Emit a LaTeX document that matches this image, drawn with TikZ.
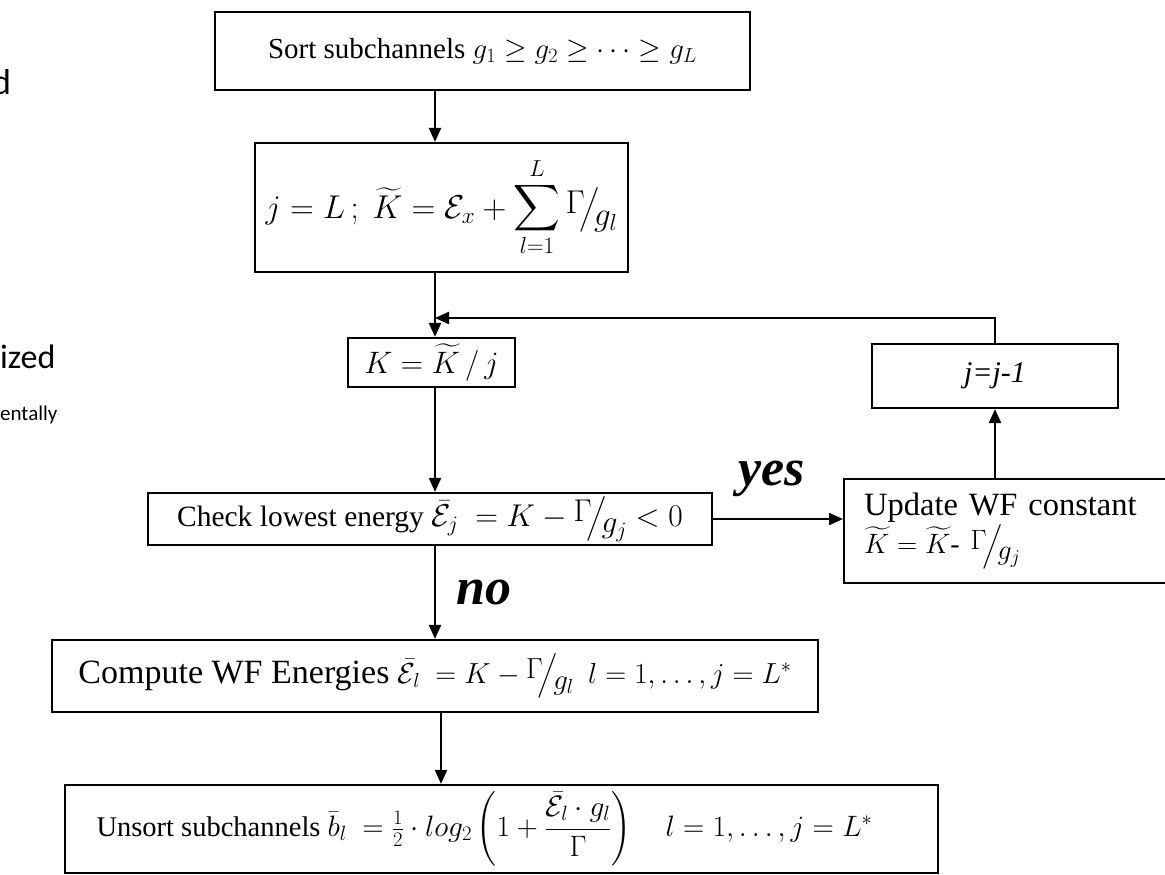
\RequirePackage{fix-cm}
\documentclass[tikz,border=0pt]{standalone}
\usepackage{amsmath}
\usepackage{fontspec}
\setmainfont{Liberation Serif}
\newfontfamily\sidefont{Carlito}
\usetikzlibrary{arrows.meta}
% font size switch (size = leading)
\newcommand{\setsz}[1]{\fontsize{#1}{#1}\selectfont}
% skewed fraction such as Gamma/g
\newcommand{\skfrac}[2]{\raisebox{0.35ex}{$#1$}\!\big/\!\raisebox{-0.45ex}{$#2$}}
% tall summation sign
\newcommand{\bigsum}{\mathop{\scalebox{1.3}{$\displaystyle\sum$}}\limits}
\begin{document}
\begin{tikzpicture}[x=1pt,y=-1pt,
  box/.style={draw, line width=2.2pt, inner sep=0pt, align=center,
              font=\fontsize{28}{34}\selectfont},
  arr/.style={line width=2.2pt, -{Triangle[length=14pt,width=12pt]}},
  lab/.style={font=\fontsize{52}{52}\selectfont\bfseries\itshape},
  side/.style={anchor=base west, inner sep=0pt}]
\useasboundingbox (0,0) rectangle (1165,875);
\fill[white] (0,0) rectangle (1165,875);

% fragments of neighbouring text
\node[side, font=\sidefont\fontsize{36}{36}\selectfont] (s1) at (-8,95) {d};
\node[side, font=\sidefont\fontsize{34}{34}\selectfont] (s2) at (0,368) {ized};
\node[side, font=\sidefont\fontsize{21}{21}\selectfont] (s3) at (0,420) {entally};

% process boxes
\node[box, minimum width=535pt, minimum height=78pt, font=\setsz{29}] (sort) at (482.5,51)
  {Sort subchannels {\setsz{29}$g_1 \ge g_2 \ge \cdots \ge g_L$}};
\node[box, minimum width=373pt, minimum height=129pt,
      font=\setsz{33}] (init) at (441.5,207.5)
  {$\displaystyle j = L\,;\ \widetilde{K} = \mathcal{E}_x + \bigsum_{l=1}^{L} \skfrac{\Gamma}{g_l}$};
\node[box, minimum width=167pt, minimum height=49pt,
      font=\setsz{31}] (kval) at (431.5,362.5)
  {$K = \widetilde{K}\,/\,j$};
\node[box, minimum width=564pt, minimum height=52pt, font=\setsz{29.5}] (check) at (430,519)
  {Check lowest energy {\setsz{31.5}$\bar{\mathcal{E}}_j\ = K - \skfrac{\Gamma}{g_j} < 0$}};
\node[box, anchor=north west, text width=300pt, inner xsep=20pt,
      minimum height=104pt, align=left, font=\fontsize{32.5}{38}\selectfont] (update) at (843,478)
  {Update WF constant\\{\setsz{28}$\widetilde{K} = \widetilde{K}$- $\skfrac{\Gamma}{g_j}$}};
\node[box, minimum width=246pt, minimum height=64pt, font=\setsz{30}] (dec) at (995,376)
  {\textit{j=j-1}};
\node[box, minimum width=766pt, minimum height=72pt, font=\setsz{34}] (comp) at (435,676)
  {Compute WF Energies {\setsz{29}$\bar{\mathcal{E}}_l\ = K - \skfrac{\Gamma}{g_l}\ \ l = 1, \ldots, j = L^*$}};
\node[box, minimum width=873pt, minimum height=88pt, font=\setsz{28.5}] (unsort) at (501.5,829)
  {Unsort subchannels {\setsz{29.5}$\bar{b}_l\ = \tfrac{1}{2}\cdot log_2\left(1 + \dfrac{\bar{\mathcal{E}}_l\cdot g_l}{\Gamma}\right)\quad l = 1, \ldots, j = L^*$}\hspace*{34pt}};

% branch labels
\node[lab] (yes) at (772,479) {yes};
\node[lab] (no) at (484,592) {no};

% connectors
\coordinate (merge) at (435,318);
\draw[arr] (sort.south -| merge) -- (init.north -| merge);
\draw[arr] (init.south -| merge) -- (kval.north -| merge);
\draw[arr] (kval.south -| merge) -- (check.north -| merge);
\draw[arr] (check.east) -- (update.west |- check.east);
\draw[arr] (update.north -| dec) -- (dec.south);
\draw[arr] (dec.north) |- (merge);
\draw[arr] (check.south -| merge) -- (comp.north -| merge);
\draw[arr] (comp.south -| 441,0) -- (unsort.north -| 441,0);
\end{tikzpicture}
\end{document}
